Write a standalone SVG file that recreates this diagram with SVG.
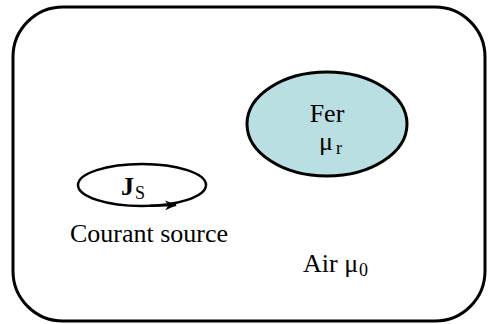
<svg xmlns="http://www.w3.org/2000/svg" width="488" height="324" viewBox="0 0 488 324">
<style>
.t{font-family:"Liberation Serif","Times New Roman",serif;font-size:26px;fill:#000}
.s{font-size:18px}
</style>
<defs>
<marker id="ah" markerWidth="12" markerHeight="10" refX="11" refY="5" orient="auto" markerUnits="userSpaceOnUse">
<path d="M0,0 L12,5 L0,10 L3.5,5 Z" fill="#000"/>
</marker>
</defs>
<rect id="domain" x="13" y="7" width="472" height="314" rx="50" ry="50" fill="#fff" stroke="#000" stroke-width="3"/>
<g id="fer">
<ellipse cx="327" cy="124" rx="80" ry="52" fill="#b9dfe3" stroke="#000" stroke-width="3"/>
<text class="t" x="327" y="122" text-anchor="middle">Fer</text>
<text class="t" x="319" y="150">μ<tspan class="s" dx="3" dy="4">r</tspan></text>
</g>
<g id="source">
<ellipse cx="142" cy="185" rx="64" ry="21" fill="none" stroke="#000" stroke-width="2.5"/>
<text class="t" x="121" y="195" font-weight="bold">J<tspan class="s" font-weight="normal" dx="1" dy="4">S</tspan></text>
<text class="t" x="149" y="242" text-anchor="middle">Courant source</text>
</g>
<g id="connectors">
<path d="M150,205.8 L176,205" fill="none" stroke="#000" stroke-width="2.5" marker-end="url(#ah)"/>
</g>
<g id="air">
<text class="t" x="303" y="272">Air  μ<tspan class="s" dx="1" dy="4">0</tspan></text>
</g>
</svg>
